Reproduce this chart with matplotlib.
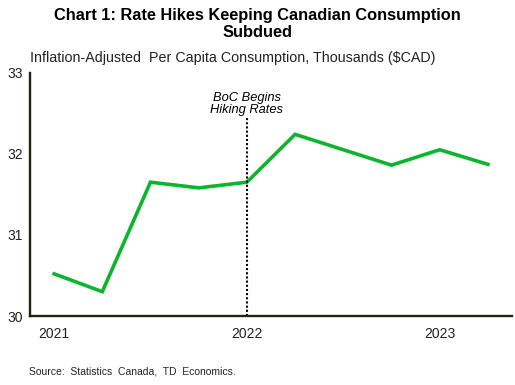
import matplotlib.pyplot as plt

plt.rcParams['font.family'] = ['Liberation Sans', 'DejaVu Sans']

# quarterly, Q1 2021 - Q2 2023
quarters = ["2021Q1", "2021Q2", "2021Q3", "2021Q4", "2022Q1",
            "2022Q2", "2022Q3", "2022Q4", "2023Q1", "2023Q2"]
consumption = [30.52, 30.30, 31.65, 31.58, 31.65, 32.24, 32.05, 31.86, 32.05, 31.87]
year_labels = ["2021", "2022", "2023"]
year_pos = [0, 4, 8]
hike_start = 4  # 2022Q1

fig = plt.figure(figsize=(5.15, 3.85), dpi=100)
ax = fig.add_axes([30 / 515, 69 / 385, 482 / 515, 243.3 / 385])

x = list(range(len(quarters)))
ax.plot(x, consumption, color='#0DB52F', linewidth=2.6, solid_joinstyle='miter')
ax.plot([hike_start, hike_start], [30, 32.44], color='black', linestyle=(0, (1, 1)), linewidth=1.5)
ax.text(hike_start, 32.46, "BoC Begins\nHiking Rates", ha='center', va='bottom',
        fontsize=9.3, style='italic', linespacing=1.0)

ax.set_xlim(-0.5, len(quarters) - 0.5)
ax.set_ylim(30, 33)
ax.set_yticks([30, 31, 32, 33])
ax.set_xticks(year_pos)
ax.set_xticklabels(year_labels)
ax.tick_params(length=0, labelsize=10, colors='#222222')
ax.tick_params(axis='y', pad=5)
ax.tick_params(axis='x', pad=8)

for s in ['top', 'right']:
    ax.spines[s].set_visible(False)
for s in ['left', 'bottom']:
    ax.spines[s].set_color('#1f2410')
    ax.spines[s].set_linewidth(1.7)

fig.text(0.5, 1 - 24 / 385, "Chart 1: Rate Hikes Keeping Canadian Consumption\nSubdued",
         ha='center', va='center', fontsize=11.8, fontweight='bold', linespacing=1.15)
fig.text(30 / 515, 1 - 58 / 385, "Inflation-Adjusted  Per Capita Consumption, Thousands ($CAD)",
         ha='left', va='center', fontsize=10.3, color='#222222')
fig.text(29 / 515, 1 - 371 / 385, "Source:  Statistics  Canada,  TD  Economics.",
         ha='left', va='center', fontsize=7.5, color='#222222')

fig.savefig("out.png", dpi=100)
